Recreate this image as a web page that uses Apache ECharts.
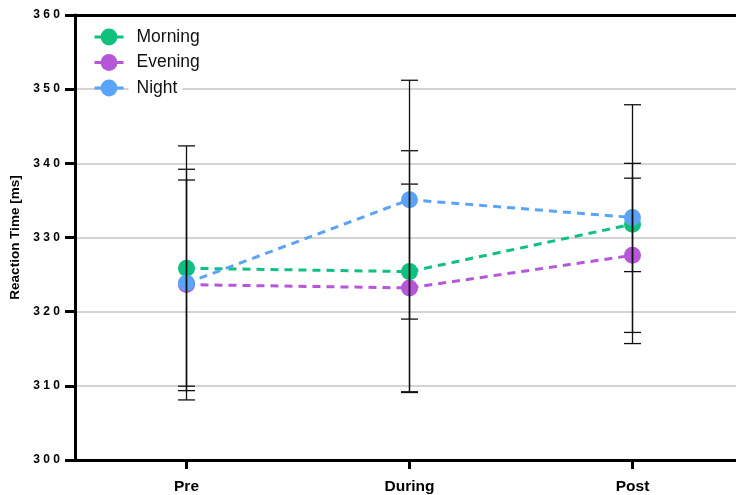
<!DOCTYPE html>
<html><head><meta charset="utf-8">
<script src="https://cdn.jsdelivr.net/npm/echarts@6/dist/echarts.min.js"></script>
<style>html,body{margin:0;padding:0;background:#fff}#c{width:736px;height:495px}</style>
</head><body><div id="c"></div>
<script>
const categories = ['Pre', 'During', 'Post'];
const seriesNames = ['Morning', 'Evening', 'Night'];
const morningMean = [325.85, 325.4, 331.8];
const morningErr = [16.5, 16.3, 16.1];
const eveningMean = [323.65, 323.2, 327.6];
const eveningErr = [15.55, 14.0, 10.4];
const nightMean = [323.85, 335.1, 332.7];
const nightErr = [13.9, 16.1, 7.3];
const yTicks = [300, 310, 320, 330, 340, 350, 360];
const colors = ['#10c07f', '#b657d8', '#5aa3f7'];

const means = [morningMean, eveningMean, nightMean];
const errs = [morningErr, eveningErr, nightErr];
const catIdx = categories.map((c, k) => k);

const chart = echarts.init(document.getElementById('c'), null, {renderer: 'canvas'});

const series = [];
seriesNames.forEach((name, i) => {
  series.push({
    name: name,
    type: 'line',
    data: means[i].map((m, k) => [k, m]),
    symbol: 'circle',
    symbolSize: 17,
    z: 3 + i,
    lineStyle: {color: colors[i], width: 3, type: [8, 6]},
    itemStyle: {color: colors[i]},
    emphasis: {disabled: true}
  });
});
seriesNames.forEach((name, i) => {
  series.push({
    name: name + ' err',
    type: 'custom',
    z: 10,
    silent: true,
    data: means[i].map((m, k) => [k, m - errs[i][k], m + errs[i][k]]),
    renderItem: function (params, api) {
      const lo = api.coord([api.value(0), api.value(1)]);
      const hi = api.coord([api.value(0), api.value(2)]);
      const hw = 8.5;
      const st = {stroke: '#111', lineWidth: 1.3};
      return {
        type: 'group',
        children: [
          {type: 'line', shape: {x1: lo[0], y1: lo[1], x2: hi[0], y2: hi[1]}, style: st},
          {type: 'line', shape: {x1: lo[0] - hw, y1: lo[1], x2: lo[0] + hw, y2: lo[1]}, style: st},
          {type: 'line', shape: {x1: hi[0] - hw, y1: hi[1], x2: hi[0] + hw, y2: hi[1]}, style: st}
        ]
      };
    }
  });
});

// plot spans 661px from x=75 to the right edge; category step is 223px
const xMin = -0.5;
const xMax = -0.5 + 661 / 223;

chart.setOption({
  animation: false,
  backgroundColor: '#fff',
  textStyle: {fontFamily: 'Liberation Sans, Arial, sans-serif'},
  grid: {left: 75, right: 0, top: 15, bottom: 33, containLabel: false},
  legend: {
    data: seriesNames,
    orient: 'vertical',
    left: 87,
    top: 26,
    itemWidth: 29,
    itemHeight: 21,
    itemGap: 7.5,
    padding: [2, 6, 2, 6],
    lineStyle: {type: 'solid', width: 3},
    textStyle: {fontSize: 17.5, color: '#111', backgroundColor: '#fff', padding: [0, 5, 0, 8], fontFamily: 'Liberation Sans, Arial, sans-serif'}
  },
  xAxis: [{
    type: 'value',
    min: xMin,
    max: xMax,
    axisLine: {onZero: false, lineStyle: {color: '#000', width: 3}},
    axisTick: {show: true, customValues: catIdx, length: 9, lineStyle: {color: '#000', width: 3}},
    axisLabel: {customValues: catIdx, fontSize: 15.5, fontWeight: 'bold', color: '#000', margin: 19,
      formatter: v => categories[Math.round(v)] || ''},
    splitLine: {show: false}
  }, {
    type: 'value',
    min: xMin,
    max: xMax,
    position: 'top',
    axisLine: {show: true, onZero: false, lineStyle: {color: '#000', width: 3}},
    axisTick: {show: false},
    axisLabel: {show: false},
    splitLine: {show: false}
  }],
  yAxis: {
    type: 'value',
    min: 300,
    max: 360,
    interval: 10,
    name: 'Reaction Time [ms]',
    nameLocation: 'middle',
    nameGap: 51,
    nameTextStyle: {fontSize: 13.5, fontWeight: 'bold', color: '#000'},
    axisLine: {show: true, onZero: false, lineStyle: {color: '#000', width: 3}},
    axisTick: {show: true, length: 10, lineStyle: {color: '#000', width: 3}},
    axisLabel: {
      fontSize: 12, fontWeight: 'bold', color: '#000', margin: 15,
      formatter: v => yTicks.indexOf(v) >= 0 ? String(v).split('').join(' ') : ''
    },
    splitLine: {show: true, lineStyle: {color: '#d4d4d4', width: 2}}
  },
  series: series
});
</script></body></html>
